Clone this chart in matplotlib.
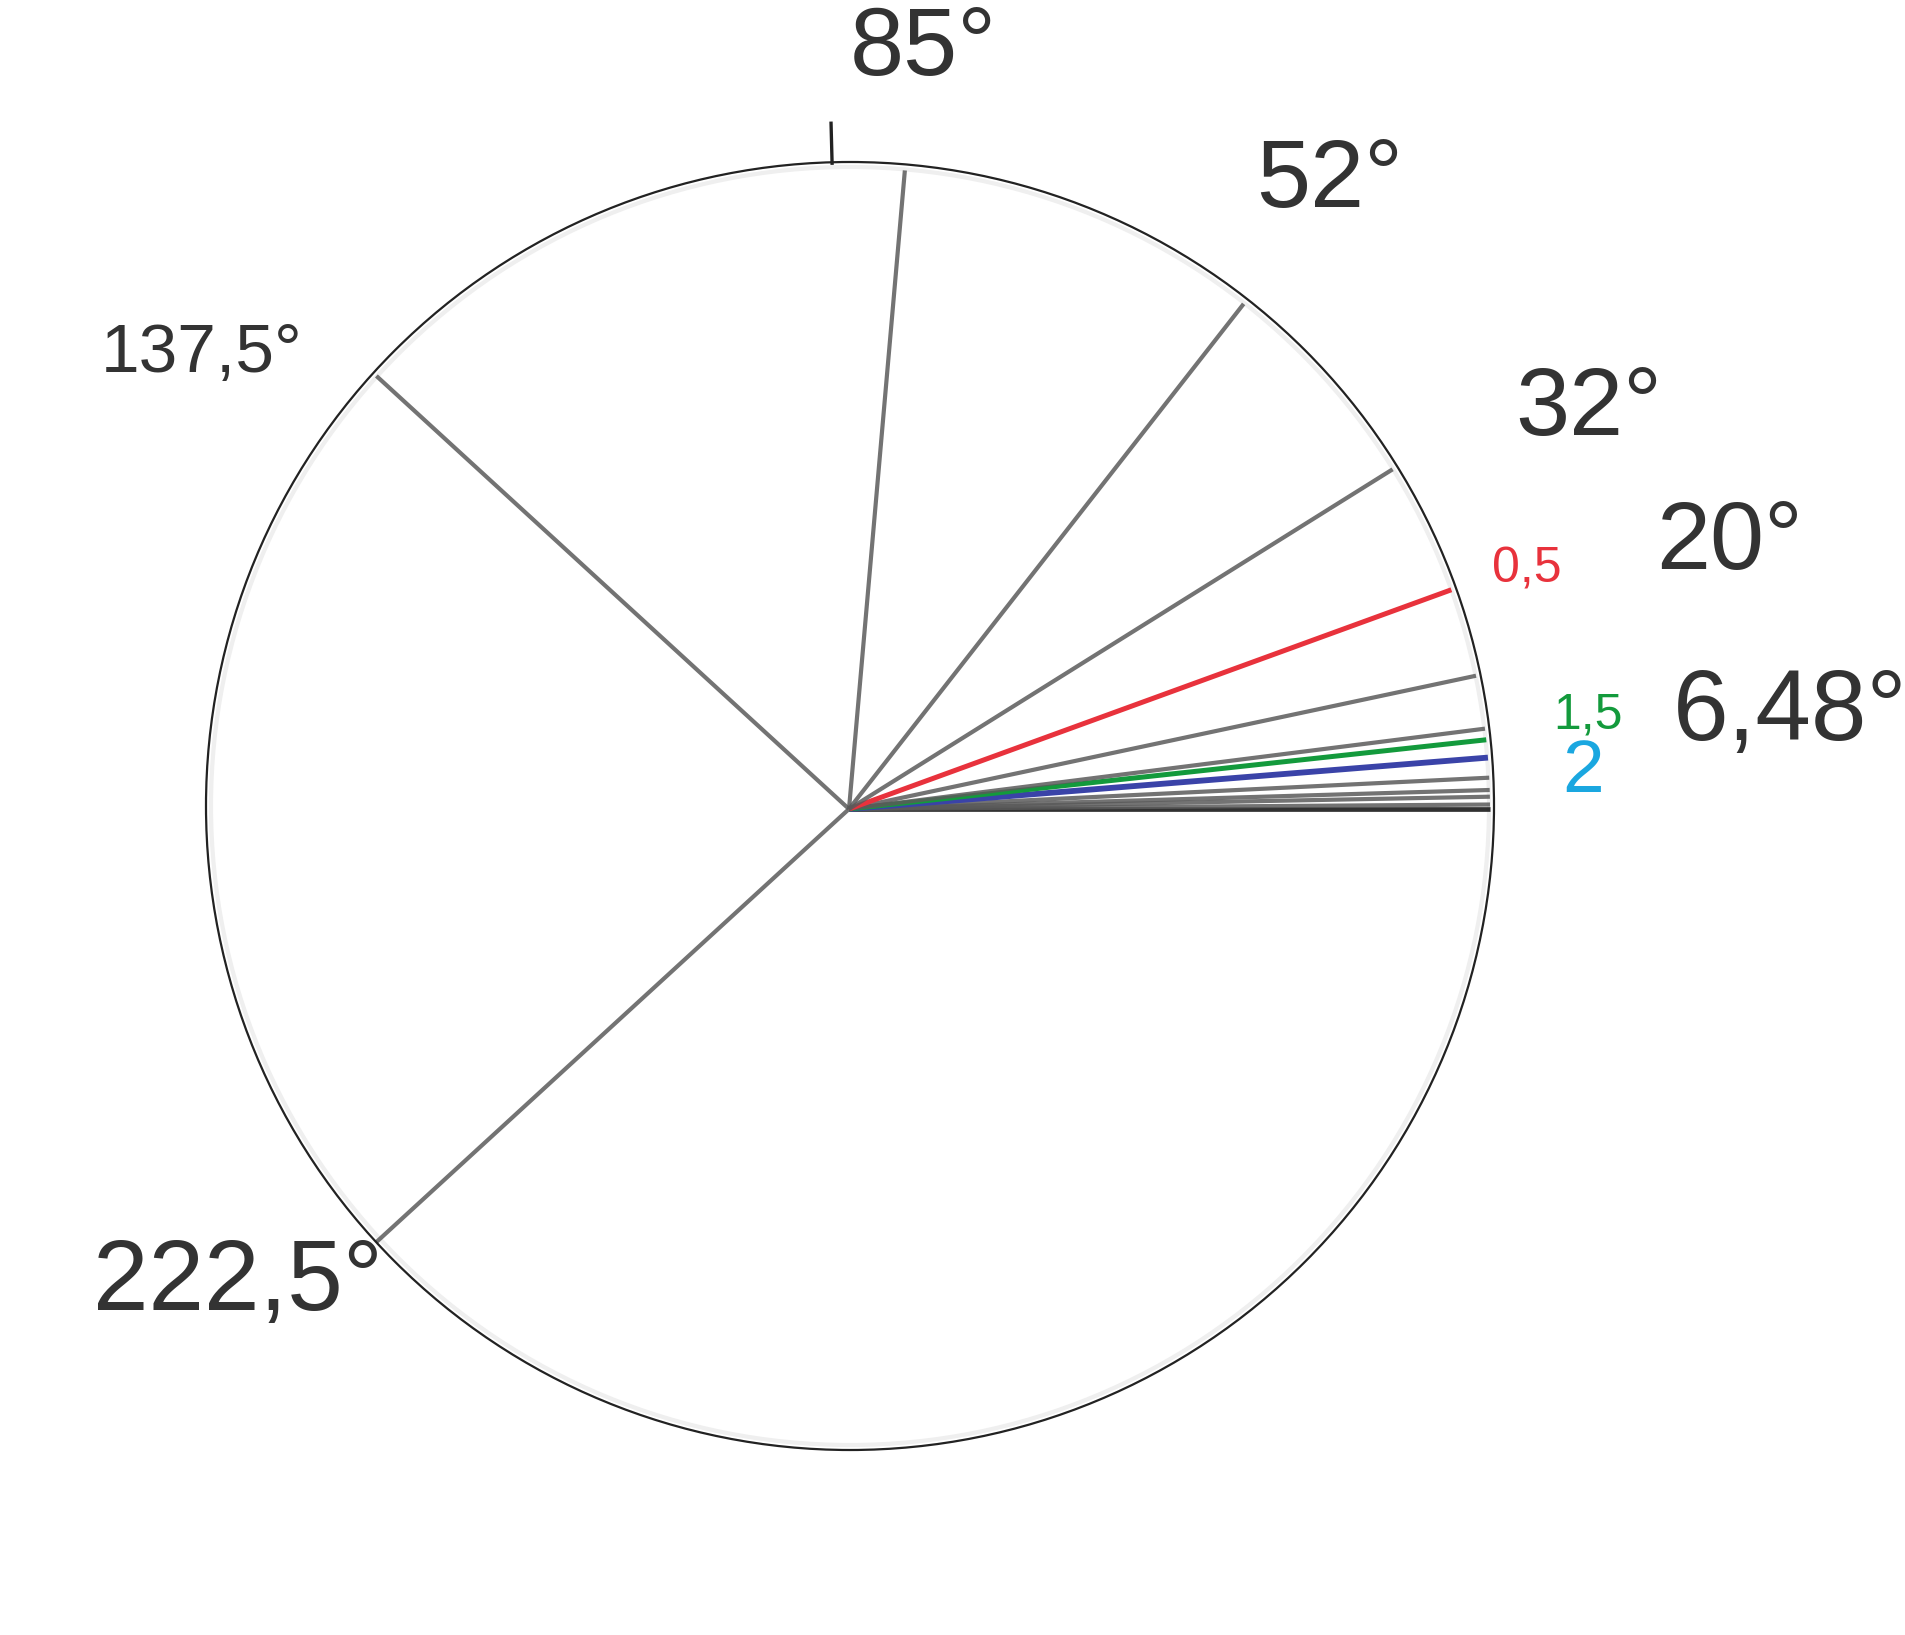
import numpy as np
import matplotlib
matplotlib.use("Agg")
import matplotlib.pyplot as plt
from matplotlib.patches import Circle

# ---- data ----
line_angles = [0.0, 0.4, 1.1, 1.7, 2.8, 4.6, 6.2, 7.2, 12.0, 20.0, 32.0, 52.0, 85.0, 137.5, 222.5]
line_kinds = ["k", "g", "g", "g", "g", "blue", "green", "g", "g", "red", "g", "g", "g", "g", "g"]
angle_labels = ["85°", "52°", "32°", "20°", "6,48°", "137,5°", "222,5°"]
value_labels = ["0,5", "1,5", "2"]

# ---- styles / layout ----
W, H, DPI = 1905, 1635, 100
cx, cy = 849, 809
R_line = 641
kind_style = {
    "k": dict(color="#1a1a1a", lw=3.4, alpha=0.9),
    "g": dict(color="#5a5a5a", lw=3.0, alpha=0.85),
    "red": dict(color="#e8323c", lw=3.6, alpha=1.0),
    "green": dict(color="#139a3c", lw=3.6, alpha=1.0),
    "blue": dict(color="#3a43a8", lw=4.2, alpha=1.0),
}
# (x centre, baseline y, fontsize)
angle_label_pos = [(923, 75, 70), (1330, 207, 70), (1589, 435, 70), (1730, 569, 70),
                   (1790, 740, 72), (202, 372, 50), (238, 1310, 72)]
value_label_style = [(1527, 582, 36, "#e8323c"), (1588, 728, 36, "#139a3c"), (1583, 792, 54, "#1aa7e0")]
txt_color = "#333333"

fig = plt.figure(figsize=(W / DPI, H / DPI), dpi=DPI)
ax = fig.add_axes([0, 0, 1, 1])
ax.set_xlim(0, W)
ax.set_ylim(H, 0)
ax.set_aspect("equal")
ax.axis("off")
fig.patch.set_facecolor("white")

# faint inner shadow and circle
ax.add_patch(Circle((850, 806), 639, fill=False, ec="#efefef", lw=3, zorder=1))
ax.add_patch(Circle((850, 806), 644, fill=False, ec="#222222", lw=1.6, zorder=3))

# radial lines
for ang, kind in zip(line_angles, line_kinds):
    t = np.deg2rad(ang)
    st = kind_style[kind]
    ax.plot([cx, cx + R_line * np.cos(t)], [cy, cy - R_line * np.sin(t)],
            color=st["color"], lw=st["lw"], alpha=st["alpha"],
            solid_capstyle="butt", zorder=2)

# small tick on top
t = np.deg2rad(91.5)
ax.plot([cx + 646 * np.cos(t), cx + 686 * np.cos(t)],
        [cy - 646 * np.sin(t), cy - 686 * np.sin(t)],
        color="#222222", lw=2.4, zorder=3)

for lab, (x, y, fs) in zip(angle_labels, angle_label_pos):
    ax.text(x, y, lab, fontsize=fs, color=txt_color, ha="center", va="baseline",
            family="Liberation Sans")

for lab, (x, y, fs, c) in zip(value_labels, value_label_style):
    ax.text(x, y, lab, fontsize=fs, color=c, ha="center", va="baseline",
            family="Liberation Sans")

fig.savefig("out.png", dpi=DPI, facecolor="white")
